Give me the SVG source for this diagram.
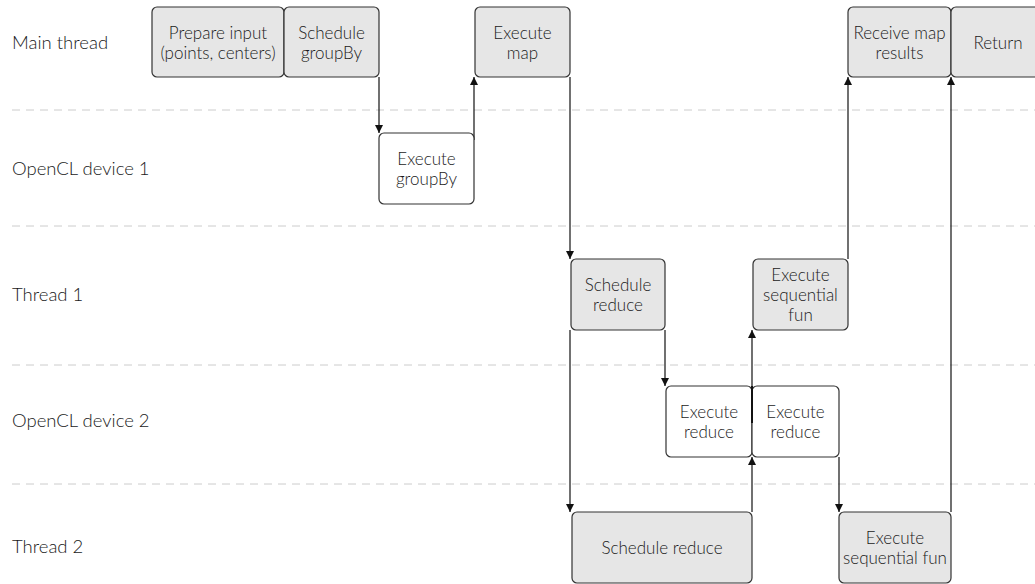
<svg xmlns="http://www.w3.org/2000/svg" width="1035" height="584" viewBox="0 0 1035 584">
  <style>
    .lane { stroke: #cccccc; stroke-width: 1; stroke-dasharray: 8 6; fill: none; }
    .lbl { font-family: Lato, "Open Sans", sans-serif; font-weight: 300; font-size: 18.5px; fill: #1a1a1a; }
    .box { stroke: #333333; stroke-width: 1.2; }
    .host { fill: #e6e6e6; }
    .dev { fill: #ffffff; }
    .txt { font-family: Lato, "Open Sans", sans-serif; font-weight: 300; font-size: 17px; fill: #1a1a1a; text-anchor: middle; }
    .edge { stroke: #111111; stroke-width: 1.2; fill: none; marker-end: url(#arr); }
  </style>
  <defs>
    <marker id="arr" viewBox="0 0 10 10" refX="10" refY="5" markerWidth="8" markerHeight="8" markerUnits="userSpaceOnUse" orient="auto">
      <path d="M0,0 L10,5 L0,10 Z" fill="#111111"/>
    </marker>
  </defs>
  <rect width="1035" height="584" fill="#ffffff"/>

  <!-- swimlane separators -->
  <g id="lanes">
    <line class="lane" x1="12" y1="110" x2="1035" y2="110"/>
    <line class="lane" x1="12" y1="226" x2="1035" y2="226"/>
    <line class="lane" x1="12" y1="365" x2="1035" y2="365"/>
    <line class="lane" x1="12" y1="484" x2="1035" y2="484"/>
  </g>

  <!-- lane titles -->
  <g id="lane-labels">
    <text class="lbl" x="12" y="49">Main thread</text>
    <text class="lbl" x="12" y="175">OpenCL device 1</text>
    <text class="lbl" x="12" y="301">Thread 1</text>
    <text class="lbl" x="12" y="427">OpenCL device 2</text>
    <text class="lbl" x="12" y="553">Thread 2</text>
  </g>

  <!-- connectors -->
  <g id="connectors">
    <line class="edge" x1="379" y1="77" x2="379" y2="133"/>
    <line class="edge" x1="474" y1="140" x2="474" y2="77"/>
    <line class="edge" x1="570" y1="77" x2="570" y2="259"/>
    <line class="edge" x1="570" y1="330" x2="570" y2="512"/>
    <line class="edge" x1="665" y1="330" x2="665" y2="386"/>
    <line class="edge" x1="752" y1="423" x2="752" y2="330"/>
    <line class="edge" x1="752" y1="512" x2="752" y2="457"/>
    <line class="edge" x1="839" y1="457" x2="839" y2="512"/>
    <line class="edge" x1="848" y1="259" x2="848" y2="77"/>
    <line class="edge" x1="951" y1="512" x2="951" y2="77"/>
  </g>

  <!-- main thread -->
  <g id="prepare-input">
    <rect class="box host" x="152" y="7" width="132" height="70" rx="5"/>
    <text class="txt" x="218" y="39">Prepare input</text>
    <text class="txt" x="218" y="59">(points, centers)</text>
  </g>
  <g id="schedule-groupby">
    <rect class="box host" x="284" y="7" width="95" height="70" rx="5"/>
    <text class="txt" x="331.5" y="39">Schedule</text>
    <text class="txt" x="331.5" y="59">groupBy</text>
  </g>
  <g id="execute-map">
    <rect class="box host" x="475" y="7" width="95" height="70" rx="5"/>
    <text class="txt" x="522.5" y="39">Execute</text>
    <text class="txt" x="522.5" y="59">map</text>
  </g>
  <g id="receive-map-results">
    <rect class="box host" x="848" y="7" width="103" height="70" rx="5"/>
    <text class="txt" x="899.5" y="39">Receive map</text>
    <text class="txt" x="899.5" y="59">results</text>
  </g>
  <g id="return">
    <rect class="box host" x="951" y="7" width="90" height="70" rx="5"/>
    <text class="txt" x="998" y="49">Return</text>
  </g>

  <!-- OpenCL device 1 -->
  <g id="execute-groupby">
    <rect class="box dev" x="379" y="133" width="95" height="71" rx="5"/>
    <text class="txt" x="426.5" y="165">Execute</text>
    <text class="txt" x="426.5" y="185">groupBy</text>
  </g>

  <!-- thread 1 -->
  <g id="schedule-reduce-1">
    <rect class="box host" x="571" y="259" width="94" height="71" rx="5"/>
    <text class="txt" x="618" y="291">Schedule</text>
    <text class="txt" x="618" y="311">reduce</text>
  </g>
  <g id="execute-sequential-fun-1">
    <rect class="box host" x="753" y="259" width="95" height="71" rx="5"/>
    <text class="txt" x="800.5" y="281">Execute</text>
    <text class="txt" x="800.5" y="301">sequential</text>
    <text class="txt" x="800.5" y="321">fun</text>
  </g>

  <!-- OpenCL device 2 -->
  <g id="execute-reduce-1">
    <rect class="box dev" x="666" y="386" width="86" height="71" rx="5"/>
    <text class="txt" x="709" y="418">Execute</text>
    <text class="txt" x="709" y="438">reduce</text>
  </g>
  <g id="execute-reduce-2">
    <rect class="box dev" x="752" y="386" width="87" height="71" rx="5"/>
    <text class="txt" x="795.5" y="418">Execute</text>
    <text class="txt" x="795.5" y="438">reduce</text>
  </g>
  <line x1="752" y1="386" x2="752" y2="423" stroke="#111111" stroke-width="2"/>

  <!-- thread 2 -->
  <g id="schedule-reduce-2">
    <rect class="box host" x="572" y="512" width="180" height="71" rx="5"/>
    <text class="txt" x="662" y="554">Schedule reduce</text>
  </g>
  <g id="execute-sequential-fun-2">
    <rect class="box host" x="839" y="512" width="112" height="71" rx="5"/>
    <text class="txt" x="895" y="544">Execute</text>
    <text class="txt" x="895" y="564">sequential fun</text>
  </g>
</svg>
